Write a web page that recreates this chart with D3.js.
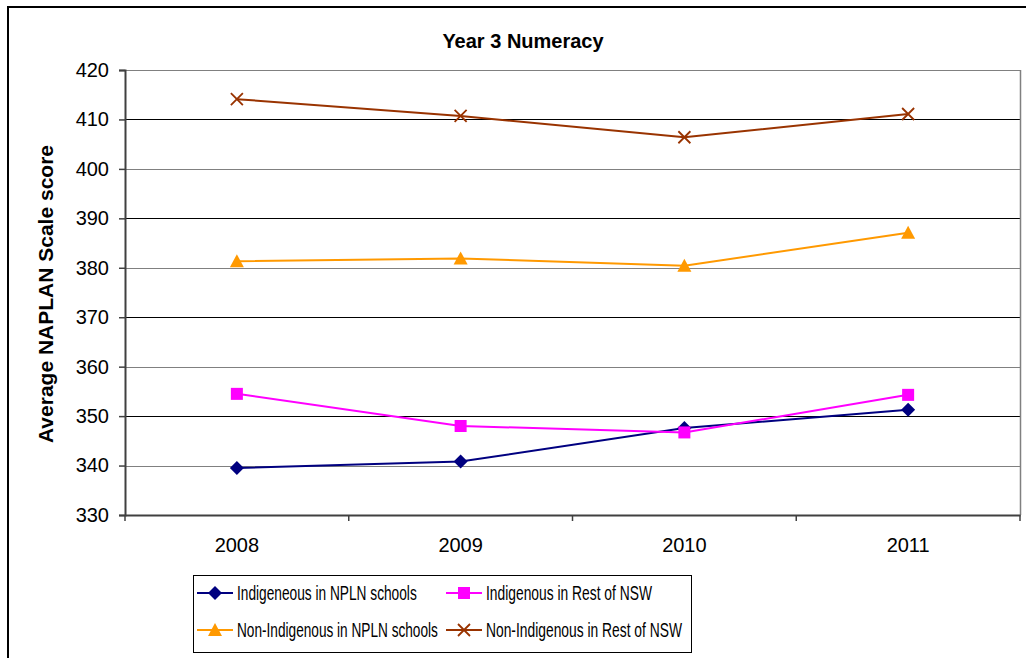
<!DOCTYPE html>
<html><head><meta charset="utf-8">
<script src="https://cdn.jsdelivr.net/npm/d3@7"></script>
<style>
html,body{margin:0;padding:0;background:#fff;}
text{font-family:"Liberation Sans",Arial,sans-serif;}
</style></head>
<body>
<svg id="c" width="1026" height="658"></svg>
<script>
const years = ["2008","2009","2010","2011"];
const indigenousNPLN = [339.5, 340.8, 347.6, 351.3];
const indigenousRest = [354.5, 348.0, 346.7, 354.3];
const nonIndigenousNPLN = [381.3, 381.9, 380.4, 387.1];
const nonIndigenousRest = [414.1, 410.7, 406.4, 411.1];
const yTicks = [330,340,350,360,370,380,390,400,410,420];
const seriesNames = ["Indigeneous in NPLN schools","Indigenous in Rest of NSW","Non-Indigenous in NPLN schools","Non-Indigenous in Rest of NSW"];
const titleText = "Year 3 Numeracy";
const yTitle = "Average NAPLAN Scale score";

const series = [
  {name: seriesNames[0], values: indigenousNPLN, color: "#000080", marker: "diamond"},
  {name: seriesNames[1], values: indigenousRest, color: "#FF00FF", marker: "square"},
  {name: seriesNames[2], values: nonIndigenousNPLN, color: "#FF9900", marker: "triangle"},
  {name: seriesNames[3], values: nonIndigenousRest, color: "#993300", marker: "x"}
];

const svg = d3.select("#c");
const L = 125, R = 1020, T = 70, B = 515;
const x = d3.scaleBand().domain(years).range([L, R]).padding(0);
const y = d3.scaleLinear().domain([330, 420]).range([B, T]);

// outer border
svg.append("rect").attr("x", 8).attr("y", 7).attr("width", 1030).attr("height", 670)
  .attr("fill", "none").attr("stroke", "#000").attr("stroke-width", 2);

// gridlines
svg.append("g").selectAll("line").data(yTicks.filter(d => d > 330)).join("line")
  .attr("x1", L).attr("x2", R)
  .attr("y1", d => Math.round(y(d)) + 0.5).attr("y2", d => Math.round(y(d)) + 0.5)
  .attr("stroke", d => (d % 20 === 10) ? "#000" : "#808080")
  .attr("stroke-width", 1.2);

// right border of plot
svg.append("line").attr("x1", R + 0.5).attr("x2", R + 0.5).attr("y1", T).attr("y2", B)
  .attr("stroke", "#808080").attr("stroke-width", 1.5);

// y axis
const yAxis = svg.append("g").attr("transform", `translate(${L},0)`)
  .call(d3.axisLeft(y).tickValues(yTicks).tickSize(6).tickPadding(10).tickFormat(d3.format("d")));
yAxis.select(".domain").attr("stroke", "#404040").attr("stroke-width", 2);
yAxis.selectAll(".tick line").attr("stroke", "#404040").attr("stroke-width", 1.5);
yAxis.selectAll("text").attr("font-size", 20).attr("fill", "#000")
  .style("font-family", '"Liberation Sans",Arial,sans-serif');

// x axis
const xAxis = svg.append("g").attr("transform", `translate(0,${B})`)
  .call(d3.axisBottom(x).tickSizeInner(0).tickSizeOuter(0).tickPadding(23));
xAxis.select(".domain").attr("stroke", "#404040").attr("stroke-width", 2);
xAxis.selectAll("text").attr("font-size", 20).attr("fill", "#000")
  .style("font-family", '"Liberation Sans",Arial,sans-serif');
// boundary tick marks
const bounds = years.map(d => x(d)).concat([x(years[years.length-1]) + x.bandwidth()]);
svg.append("g").selectAll("line").data(bounds).join("line")
  .attr("x1", d => d).attr("x2", d => d).attr("y1", B).attr("y2", B + 6)
  .attr("stroke", "#404040").attr("stroke-width", 1.5);

// titles
svg.append("text").attr("x", 523).attr("y", 48).attr("text-anchor", "middle")
  .attr("font-size", 20).attr("font-weight", "bold").text(titleText);
svg.append("text").attr("transform", "translate(53,294) rotate(-90)")
  .attr("text-anchor", "middle").attr("font-size", 21).attr("font-weight", "bold").text(yTitle);

function drawMarker(g, type, color, cx, cy) {
  if (type === "diamond") {
    g.append("path").attr("d", `M${cx},${cy-7}L${cx+7},${cy}L${cx},${cy+7}L${cx-7},${cy}Z`).attr("fill", color);
  } else if (type === "square") {
    g.append("rect").attr("x", cx - 6).attr("y", cy - 6).attr("width", 12).attr("height", 12).attr("fill", color);
  } else if (type === "triangle") {
    g.append("path").attr("d", `M${cx},${cy-7}L${cx+7},${cy+6}L${cx-7},${cy+6}Z`).attr("fill", color);
  } else {
    g.append("path").attr("d", `M${cx-6},${cy-6}L${cx+6},${cy+6}M${cx-6},${cy+6}L${cx+6},${cy-6}`)
      .attr("stroke", color).attr("stroke-width", 1.8).attr("fill", "none");
  }
}

const line = d3.line().x((d, i) => x(years[i]) + x.bandwidth() / 2).y(d => y(d));
const plot = svg.append("g");
[3, 2, 0, 1].forEach(k => {
  const s = series[k];
  plot.append("path").datum(s.values).attr("d", line).attr("fill", "none")
    .attr("stroke", s.color).attr("stroke-width", 2);
});
[3, 2, 0, 1].forEach(k => {
  const s = series[k];
  s.values.forEach((v, i) => drawMarker(plot, s.marker, s.color, x(years[i]) + x.bandwidth() / 2, y(v)));
});

// legend
const lg = svg.append("g");
lg.append("rect").attr("x", 193.5).attr("y", 575.5).attr("width", 498).attr("height", 77)
  .attr("fill", "#fff").attr("stroke", "#000").attr("stroke-width", 1);
const legPos = [
  {lx: 197, tx: 237, y: 593, w: 180},
  {lx: 446, tx: 486, y: 593, w: 166},
  {lx: 197, tx: 237, y: 630, w: 201},
  {lx: 446, tx: 486, y: 630, w: 196}
];
series.forEach((s, i) => {
  const p = legPos[i];
  lg.append("line").attr("x1", p.lx).attr("x2", p.lx + 36).attr("y1", p.y).attr("y2", p.y)
    .attr("stroke", s.color).attr("stroke-width", 2);
  drawMarker(lg, s.marker, s.color, p.lx + 18, p.y);
  const t = lg.append("text").attr("x", 0).attr("y", 0).attr("font-size", 20).text(s.name);
  const natural = t.node().getComputedTextLength();
  const sx = p.w / natural;
  t.attr("transform", `translate(${p.tx},${p.y + 7}) scale(${sx},1)`);
});
</script>
</body></html>
